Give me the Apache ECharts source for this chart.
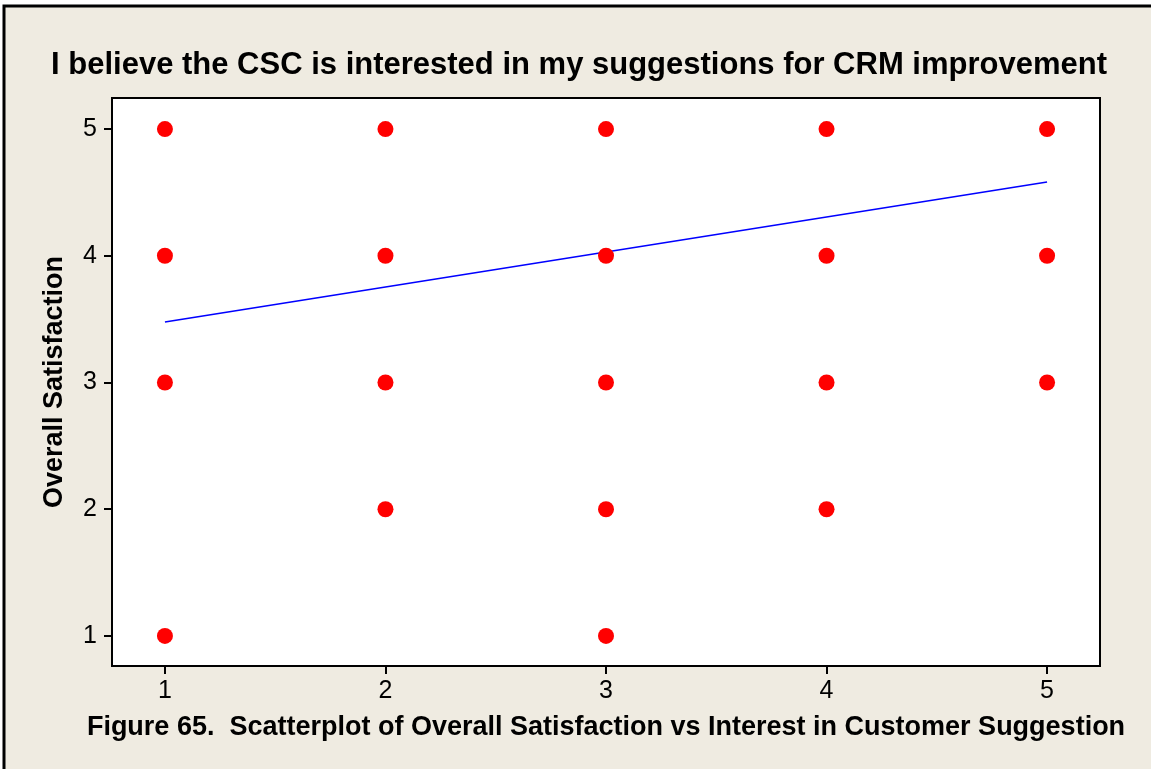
<!DOCTYPE html>
<html>
<head>
<meta charset="utf-8">
<script src="https://cdn.jsdelivr.net/npm/echarts@6/dist/echarts.min.js"></script>
<style>
  html, body { margin: 0; padding: 0; background: #ffffff; }
  #chart { width: 1151px; height: 769px; }
</style>
</head>
<body>
<div id="chart"></div>
<script>
// Survey responses: interest rating (x) vs overall satisfaction (y)
const interestScores = [1, 1, 1, 1, 2, 2, 2, 2, 3, 3, 3, 3, 3, 4, 4, 4, 4, 5, 5, 5];
const satisfactionScores = [5, 4, 3, 1, 5, 4, 3, 2, 5, 4, 3, 2, 1, 5, 4, 3, 2, 5, 4, 3];
// Fitted regression line end points
const fitX = [1, 5];
const fitY = [3.477, 4.582];
const tickValues = [1, 2, 3, 4, 5];

const titleText = 'I believe the CSC is interested in my suggestions for CRM improvement';
const captionText = 'Figure 65.  Scatterplot of Overall Satisfaction vs Interest in Customer Suggestion';
const yAxisName = 'Overall Satisfaction';

const BEIGE = '#efebe1';
const FONT = '"Liberation Sans", Arial, sans-serif';

const chart = echarts.init(document.getElementById('chart'), null, { renderer: 'canvas' });

const option = {
  backgroundColor: '#ffffff',
  animation: false,
  graphic: [
    {
      type: 'rect', z: -10, silent: true,
      shape: { x: 4, y: 6, width: 1300, height: 900 },
      style: { fill: BEIGE, stroke: '#000', lineWidth: 3 }
    },
    {
      type: 'text', z: 10, silent: true,
      x: 606, y: 728,
      style: {
        text: captionText, fill: '#000',
        font: 'bold 27px ' + FONT,
        align: 'center', verticalAlign: 'middle'
      }
    }
  ],
  title: {
    text: titleText,
    left: 574, top: 45, textAlign: 'center',
    textStyle: { fontFamily: FONT, fontWeight: 'bold', fontSize: 31, color: '#000' }
  },
  grid: {
    left: 112, top: 98, right: 51, bottom: 103,
    show: true, backgroundColor: '#ffffff', borderColor: '#000', borderWidth: 2
  },
  xAxis: {
    type: 'value', min: 0.76, max: 5.24,
    splitLine: { show: false },
    axisLine: { show: false },
    axisTick: { show: true, length: 8, customValues: tickValues, lineStyle: { color: '#000', width: 2 } },
    axisLabel: { customValues: tickValues, margin: 13, color: '#000', fontFamily: FONT, fontSize: 25 }
  },
  yAxis: {
    type: 'value', min: 0.763, max: 5.245,
    name: yAxisName, nameLocation: 'middle', nameGap: 44, nameRotate: 90,
    nameTextStyle: { fontFamily: FONT, fontWeight: 'bold', fontSize: 27, color: '#000' },
    splitLine: { show: false },
    axisLine: { show: false },
    axisTick: { show: true, length: 8, customValues: tickValues, lineStyle: { color: '#000', width: 2 } },
    axisLabel: { customValues: tickValues, margin: 15, color: '#000', fontFamily: FONT, fontSize: 25 }
  },
  series: [
    {
      type: 'line', z: 2,
      data: fitX.map((x, i) => [x, fitY[i]]),
      symbol: 'none', silent: true,
      lineStyle: { color: '#0000ff', width: 1.6 }
    },
    {
      type: 'scatter', z: 3,
      data: interestScores.map((x, i) => [x, satisfactionScores[i]]),
      symbol: 'circle', symbolSize: 16,
      itemStyle: { color: '#ff0000', opacity: 1 }
    }
  ]
};

chart.setOption(option);
</script>
</body>
</html>
